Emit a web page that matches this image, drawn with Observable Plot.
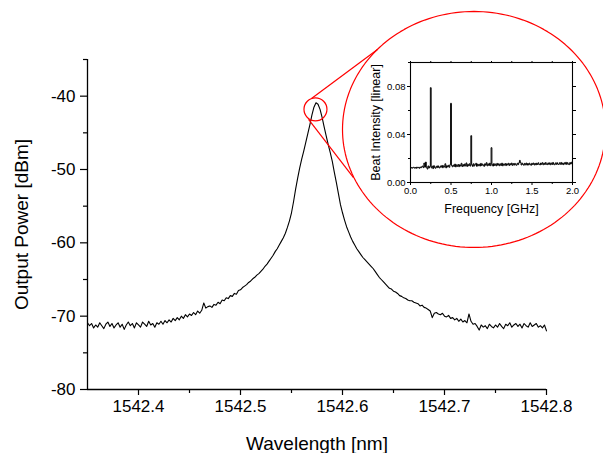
<!DOCTYPE html>
<html><head><meta charset="utf-8">
<script src="https://cdn.jsdelivr.net/npm/d3@7"></script>
<script src="https://cdn.jsdelivr.net/npm/@observablehq/plot@0.6"></script>
<style>
html,body{margin:0;padding:0;background:#fff;}
#wrap{position:relative;width:603px;height:453px;overflow:hidden;}
#wrap svg{position:absolute;}
</style></head><body><div id="wrap"></div>
<script>
// ---- Main spectrum ----
const wavelengthStart = 1542.35;
const wavelengthStep = 0.002;
const powerDbm = [
-70.9,-71.3,-71.0,-71.6,-71.2,-71.5,-70.9,-71.3,-71.7,-71.1,
-70.8,-71.4,-71.0,-71.6,-71.2,-70.9,-71.5,-71.1,-71.8,-71.2,
-70.8,-71.3,-71.0,-71.6,-70.9,-71.2,-71.5,-70.8,-71.1,-71.4,
-70.7,-71.2,-71.0,-71.5,-70.9,-71.1,
-70.7,-71.1,-70.6,-70.9,-70.5,-70.8,-70.3,-70.6,-70.2,-70.5,
-70.0,-70.3,-69.8,-70.1,-69.7,-69.9,-69.5,-69.8,-69.3,-69.6,
-69.2,-68.2,-68.9,-68.7,
-68.6,-68.8,-68.4,-68.5,-68.1,-68.3,-67.8,-67.9,-67.5,-67.6,
-67.2,-67.3,-66.9,-67.0,-66.5,-66.4,-66.1,-65.9,-65.7,-65.4,
-65.2,-64.9,-64.7,-64.4,-64.2,-63.9,-63.6,-63.2,-62.9,-62.5,
-62.1,-61.7,-61.2,-60.8,-60.3,-59.8,-59.3,-58.7,-57.9,-57.0,
-55.9,-54.4,-52.7,-51.2,-49.8,-48.6,-47.5,-46.3,-45.1,-43.9,
-42.6,-41.5,-40.9,-41.1,-41.8,-42.9,-44.2,-45.4,-46.6,-47.7,
-48.9,-50.4,-51.8,-53.3,-54.8,-55.9,-56.9,-57.8,-58.5,-59.2,
-59.8,-60.3,-60.8,-61.2,-61.6,-62.0,-62.3,-62.6,-62.9,-63.2,
-63.5,-63.9,-64.3,-64.7,-65.0,-65.3,-65.6,-65.9,-66.2,-66.3,
-66.6,-66.7,-66.9,-67.2,-67.3,-67.5,-67.6,-67.8,-67.9,-67.9,
-68.1,-68.2,-68.3,-68.6,-68.5,-68.8,-68.9,-69.1,-69.3,-70.2,
-69.6,-69.5,-69.7,-69.8,-69.6,-70.0,-70.1,-69.9,-70.3,-70.2,
-70.5,-70.3,-70.7,-70.4,-70.8,-70.6,-70.9,-69.7,-70.7,-71.1,
-71.0,-71.4,-71.9,-71.2,-71.5,-71.3,-71.7,-71.1,-71.4,-71.6,
-71.2,-71.5,-71.0,-71.4,-71.7,-71.1,-71.3,-70.9,-71.5,-71.2,
-71.0,-71.4,-71.1,-71.6,-71.0,-71.3,-71.5,-70.9,-71.4,-71.2,
-71.0,-71.5,-71.3,-71.6,-71.2,-72.0
];
const xMajorTicks = [1542.4, 1542.5, 1542.6, 1542.7, 1542.8];
const xMinorTicks = [1542.45, 1542.55, 1542.65, 1542.75];
const yMajorTicks = [-80, -70, -60, -50, -40];
const yMinorTicks = [-75, -65, -55, -45, -35];
const xLabel = "Wavelength [nm]";
const yLabel = "Output Power [dBm]";

// ---- Zoom annotation (data coordinates of main chart) ----
const peakMarker = [{x: 1542.5735, y: -41.8}];
const zoomLinks = [
  {x1: 1542.5696, y1: -40.31, x2: 1542.6343, y2: -33.63},
  {x1: 1542.5667, y1: -43.18, x2: 1542.6108, y2: -51.1}
];
const zoomEllipseCenter = [1542.7289, -44.54];
const zoomEllipseRadii = [0.1289, 16.09];

// ---- Inset: beat spectrum ----
const freqStep = 0.01; // GHz
const beatIntensity = [
0.0120,0.0125,0.0119,0.0124,0.0127,0.0120,0.0125,0.0118,0.0128,0.0122,0.0126,
0.0119,0.0129,0.0123,0.0131,0.0137,0.0124,0.0162,0.0128,0.0170,0.0126,0.0112,0.0138,0.0121,0.0133,
0.079,
0.0122,0.0136,0.0116,0.0140,0.0125,0.0119,0.0135,0.0124,0.0139,0.0126,
0.0121,0.0137,0.0128,0.0142,0.0123,0.0139,0.0129,0.0156,0.0122,0.0140,
0.0129,0.0143,0.0127,0.0148,
0.066,0.0142,
0.0131,0.0145,0.0134,0.0153,0.0130,0.0147,0.0135,0.0150,0.0132,0.0148,
0.0137,0.0160,0.0133,0.0149,0.0136,0.0154,0.0138,0.0163,0.0134,0.0151,
0.0139,0.0156,0.0137,
0.039,
0.0148,0.0134,0.0156,0.0138,0.0151,0.0160,0.0135,0.0154,0.0140,0.0152,
0.0137,0.0159,0.0141,0.0154,0.0143,0.0135,0.0156,0.0144,0.0165,0.0139,
0.0155,0.0142,0.0161,0.0140,
0.029,
0.0151,0.0137,0.0157,0.0142,0.0154,0.0139,0.0159,0.0144,0.0156,0.0140,
0.0155,0.0142,0.0161,0.0139,0.0154,0.0145,0.0158,0.0141,0.0156,0.0146,
0.0160,0.0142,0.0157,0.0147,0.0162,0.0143,0.0157,0.0145,0.0159,0.0148,
0.0144,0.0160,0.0149,0.0164,0.0184,0.0166,0.0146,0.0161,0.0150,0.0144,
0.0159,0.0147,0.0162,0.0145,0.0158,0.0146,0.0161,0.0149,0.0144,0.0160,
0.0150,0.0162,0.0146,0.0159,0.0147,0.0161,0.0150,0.0164,0.0150,0.0147,
0.0162,0.0151,0.0165,0.0148,0.0161,0.0150,0.0166,0.0152,0.0149,0.0163,
0.0151,0.0164,0.0148,0.0162,0.0150,0.0167,0.0152,0.0148,0.0163,0.0151,
0.0165,0.0153,0.0150,0.0164,0.0152,0.0167,0.0151,0.0162,0.0149,0.0164,
0.0153,0.0168,0.0151,0.0165,0.0153,0.0149,0.0166,0.0154,0.0169,0.0158
];
const fMajorTicks = [0, 0.5, 1.0, 1.5, 2.0];
const fMinorTicks = [0.25, 0.75, 1.25, 1.75];
const bMajorTicks = [0, 0.04, 0.08];
const bMinorTicks = [0.02, 0.06, 0.10];
const insetXLabel = "Frequency [GHz]";
const insetYLabel = "Beat Intensity [linear]";

// ---- Build tables ----
const spectrum = powerDbm.map((p, i) => ({wl: wavelengthStart + i * wavelengthStep, p}));
const beat = beatIntensity.map((b, i) => ({f: i * freqStep, b}));
const ellipse = d3.range(0, 361, 2).map(a => ({
  x: zoomEllipseCenter[0] + zoomEllipseRadii[0] * Math.cos(a * Math.PI / 180),
  y: zoomEllipseCenter[1] + zoomEllipseRadii[1] * Math.sin(a * Math.PI / 180)
}));

const FONT = "'Liberation Sans', Arial, Helvetica, sans-serif";

const main = Plot.plot({
  width: 603, height: 453,
  marginLeft: 87, marginRight: 57, marginTop: 59, marginBottom: 64,
  x: {domain: [1542.35, 1542.8]},
  y: {domain: [-80, -35]},
  style: {fontFamily: FONT, background: "transparent", color: "black"},
  marks: [
    Plot.axisX({ticks: xMajorTicks, tickSize: 6, tickPadding: 4, strokeWidth: 1.2, fontSize: 17, tickFormat: d => d.toFixed(1), label: null}),
    Plot.axisX({ticks: xMinorTicks, tickSize: 4, strokeWidth: 1.2, tickFormat: () => "", label: null}),
    Plot.axisY({ticks: yMajorTicks, tickSize: 7, tickPadding: 5, strokeWidth: 1.2, fontSize: 17, tickFormat: d => String(d), label: null}),
    Plot.axisY({ticks: yMinorTicks, tickSize: 4, strokeWidth: 1.2, tickFormat: () => "", label: null}),
    Plot.ruleY([-80], {strokeWidth: 1.3}),
    Plot.ruleX([1542.35], {strokeWidth: 1.3}),
    Plot.text([xLabel], {text: d => d, frameAnchor: "bottom", dy: 54, fontSize: 19, textAnchor: "middle", lineAnchor: "middle"}),
    Plot.text([yLabel], {text: d => d, frameAnchor: "left", dx: -66, rotate: -90, fontSize: 19, textAnchor: "middle", lineAnchor: "middle"}),
    Plot.line(spectrum, {x: "wl", y: "p", stroke: "black", strokeWidth: 1.1}),
    Plot.dot(peakMarker, {x: "x", y: "y", r: 11.5, stroke: "red", fill: "none", strokeWidth: 1.2}),
    Plot.link(zoomLinks, {x1: "x1", y1: "y1", x2: "x2", y2: "y2", stroke: "red", strokeWidth: 1.2}),
    Plot.line(ellipse, {x: "x", y: "y", stroke: "red", strokeWidth: 1.2})
  ]
});
main.style.left = "0px"; main.style.top = "0px";

const inset = Plot.plot({
  width: 263, height: 230,
  marginLeft: 70, marginRight: 31, marginTop: 62, marginBottom: 48,
  x: {domain: [0, 2]},
  y: {domain: [0, 0.1]},
  style: {fontFamily: FONT, background: "transparent", color: "black", overflow: "visible"},
  marks: [
    Plot.frame({stroke: "black", strokeWidth: 1.1}),
    Plot.axisX({ticks: fMajorTicks, tickSize: 3, tickPadding: 2, fontSize: 9.5, strokeWidth: 1, tickFormat: d => d.toFixed(1), label: null}),
    Plot.axisX({ticks: fMinorTicks, tickSize: 2, strokeWidth: 1, tickFormat: () => "", label: null}),
    Plot.axisX({anchor: "top", ticks: [...fMajorTicks, ...fMinorTicks], tickSize: 2, strokeWidth: 1, tickFormat: () => "", label: null}),
    Plot.axisY({ticks: bMajorTicks, tickSize: 3, tickPadding: 2, fontSize: 9.5, strokeWidth: 1, tickFormat: d => d.toFixed(2), label: null}),
    Plot.axisY({ticks: bMinorTicks, tickSize: 2, strokeWidth: 1, tickFormat: () => "", label: null}),
    Plot.axisY({anchor: "right", ticks: [...bMajorTicks, ...bMinorTicks], tickSize: 3, strokeWidth: 1, tickFormat: () => "", label: null}),
    Plot.line(beat, {x: "f", y: "b", stroke: "black", strokeWidth: 1, curve: "step"}),
    Plot.text([insetXLabel], {text: d => d, frameAnchor: "bottom", dy: 26, fontSize: 12.5, textAnchor: "middle", lineAnchor: "middle"}),
    Plot.text([insetYLabel], {text: d => d, frameAnchor: "left", dx: -35, rotate: -90, fontSize: 12.5, textAnchor: "middle", lineAnchor: "middle"})
  ]
});
inset.style.left = "340px"; inset.style.top = "0px";

const wrap = document.getElementById("wrap");
wrap.appendChild(main);
wrap.appendChild(inset);
</script>
</body></html>
